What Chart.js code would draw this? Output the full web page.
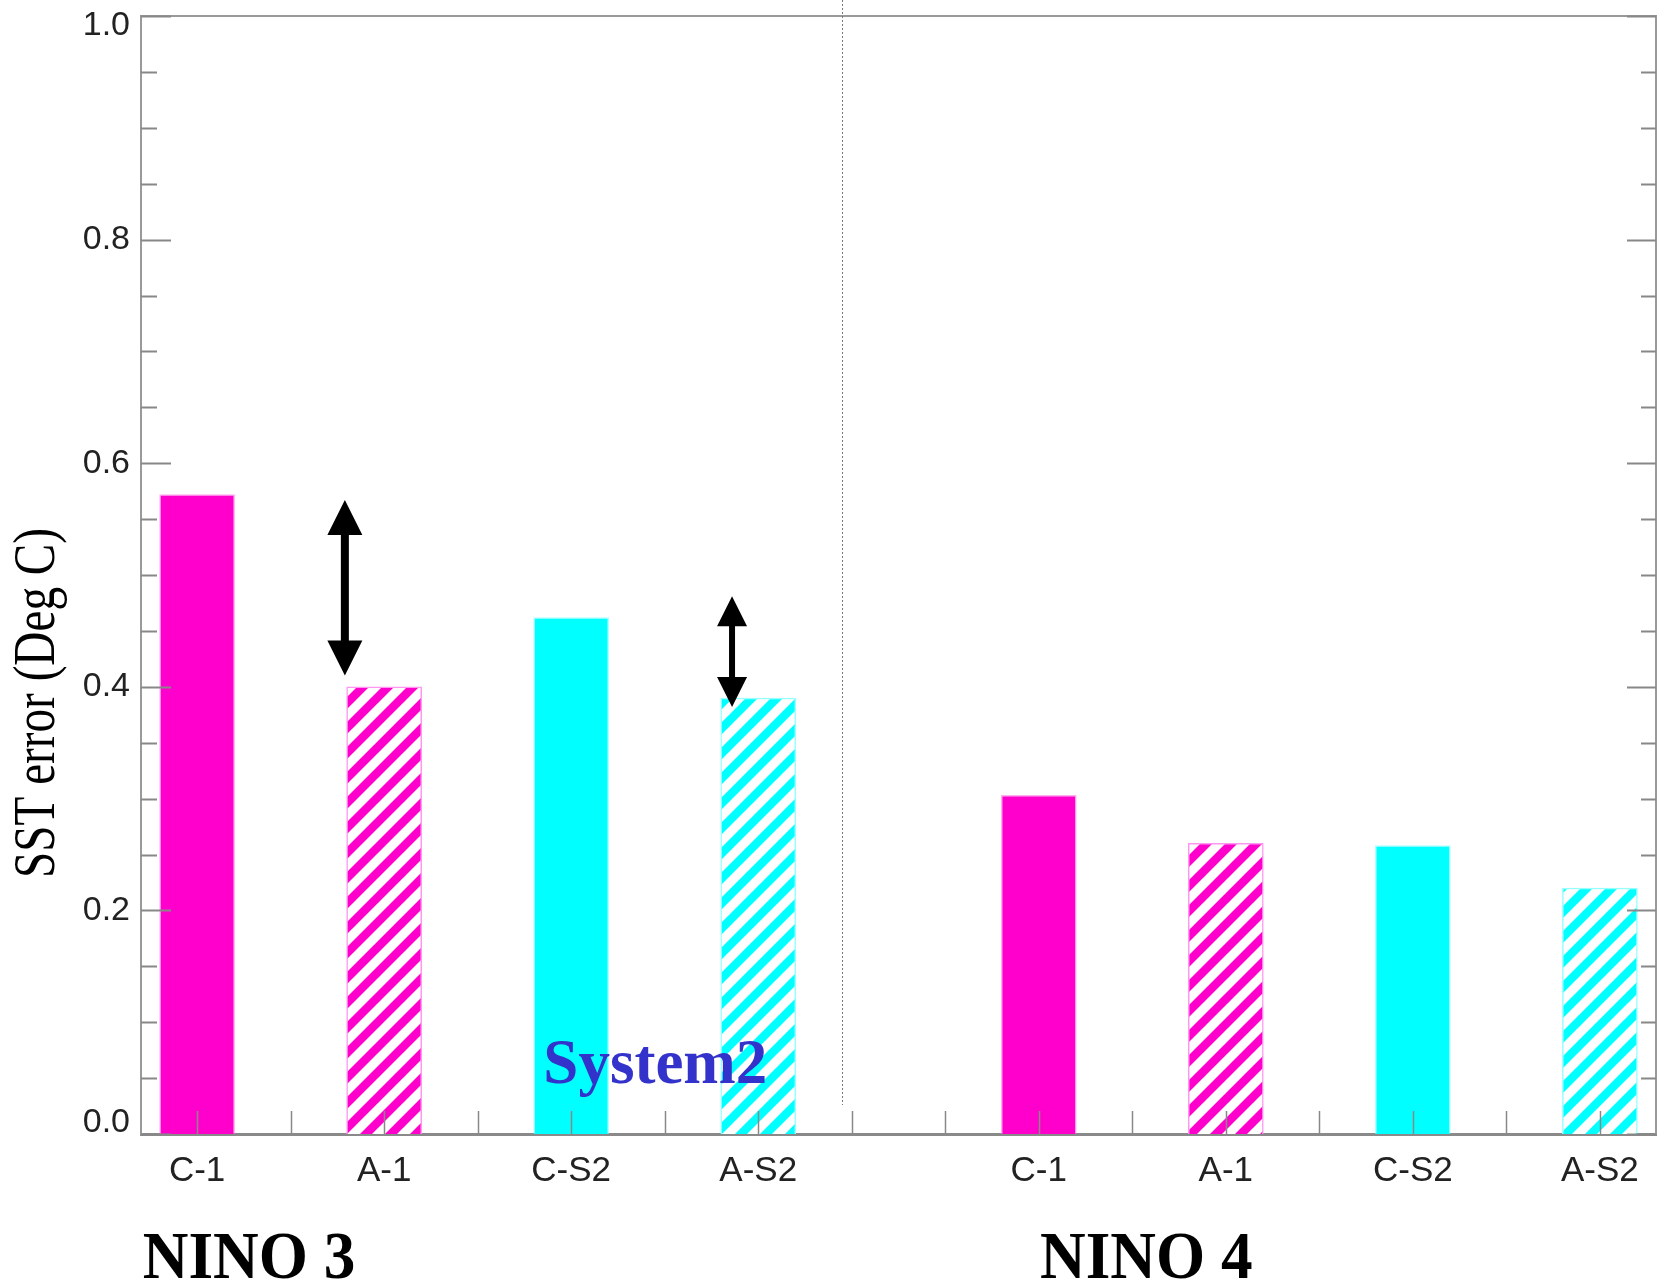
<!DOCTYPE html>
<html lang="en">
<head>
  <meta charset="UTF-8">
  <title>SST error - NINO 3 / NINO 4</title>
  <style>
    html, body {
      margin: 0;
      padding: 0;
      background: #ffffff;
    }

    #wrap {
      width: 1661px;
      height: 1285px;
    }
  </style>
</head>
<body>
  <div id="wrap">
    <canvas id="sstChart" width="1661" height="1285"></canvas>
  </div>

  <script src="https://cdn.jsdelivr.net/npm/chart.js"></script>
  <script>
    // experiments and regions
    const models = ['C-1', 'A-1', 'C-S2', 'A-S2'];
    const regions = ['NINO 3', 'NINO 4'];

    // SST error (deg C) per experiment
    const nino3 = [0.572, 0.40, 0.462, 0.39];
    const nino4 = [0.303, 0.26, 0.258, 0.22];

    const yTicks = [0.0, 0.2, 0.4, 0.6, 0.8, 1.0];

    // improvement arrows (x in bar units, y in deg C)
    const arrows = [
      { x: 0.79, from: 0.41, to: 0.567, head: 35, shaft: 8 },
      { x: 2.86, from: 0.382, to: 0.481, head: 30, shaft: 6 }
    ];

    const MAGENTA = 'rgb(255, 0, 204)';
    const CYAN = 'rgb(0, 255, 255)';

    // bar position: each region is a block of 4 bars, half a slot apart
    const slot = (g, i) => g * (models.length + 0.5) + i;

    function hatch(color) {
      const c = document.createElement('canvas');
      c.width = 25;
      c.height = 25;
      const g = c.getContext('2d');
      g.fillStyle = '#ffffff';
      g.fillRect(0, 0, 25, 25);
      g.strokeStyle = color;
      g.lineWidth = 8.5;
      g.beginPath();
      g.moveTo(-5, 30); g.lineTo(30, -5);
      g.moveTo(-5, 5); g.lineTo(5, -5);
      g.moveTo(20, 30); g.lineTo(30, 20);
      g.stroke();
      return g.createPattern(c, 'repeat');
    }

    const fills = [MAGENTA, hatch(MAGENTA), CYAN, hatch(CYAN)];
    const edges = ['rgba(255, 120, 230, 0.6)', 'rgb(255, 150, 240)',
                   'rgba(120, 255, 255, 0.6)', 'rgb(150, 255, 255)'];

    const datasets = models.map((m, i) => ({
      label: m,
      data: [
        { x: slot(0, i), y: nino3[i] },
        { x: slot(1, i), y: nino4[i] }
      ],
      backgroundColor: fills[i],
      borderColor: edges[i],
      borderWidth: 1.5,
      borderSkipped: 'bottom',
      barThickness: 75,
      grouped: false
    }));

    const labelAt = {};
    regions.forEach((r, g) => models.forEach((m, i) => { labelAt[slot(g, i)] = m; }));

    // frame, inward ticks, labels and annotations
    const decorations = {
      id: 'decorations',
      afterDraw(chart) {
        const { ctx, chartArea: a, scales: { x, y } } = chart;
        ctx.save();

        // top and right frame
        ctx.strokeStyle = '#9a9a9a';
        ctx.lineWidth = 2;
        ctx.beginPath();
        ctx.moveTo(a.left, a.top);
        ctx.lineTo(a.right, a.top);
        ctx.lineTo(a.right, a.bottom);
        ctx.stroke();

        // y ticks on both sides
        ctx.strokeStyle = '#888888';
        ctx.lineWidth = 2;
        for (let k = 0; k <= 20; k++) {
          const v = k * 0.05;
          const py = Math.round(y.getPixelForValue(v)) + 0.5;
          const major = k % 4 === 0;
          ctx.beginPath();
          ctx.moveTo(a.left, py);
          ctx.lineTo(a.left + (major ? 30 : 16), py);
          ctx.moveTo(a.right, py);
          ctx.lineTo(a.right - (major ? 29 : 15), py);
          ctx.stroke();
        }

        // x ticks every half slot
        ctx.lineWidth = 1.5;
        for (let v = 0; v <= slot(1, models.length - 1) + 0.01; v += 0.5) {
          const px = Math.round(x.getPixelForValue(v)) + 0.5;
          ctx.beginPath();
          ctx.moveTo(px, a.bottom);
          ctx.lineTo(px, a.bottom - 23);
          ctx.stroke();
        }

        // y tick labels, end labels kept inside the frame
        ctx.fillStyle = '#222222';
        ctx.font = '34px "Liberation Sans", Arial, sans-serif';
        ctx.textAlign = 'right';
        ctx.textBaseline = 'middle';
        yTicks.forEach(v => {
          let py = y.getPixelForValue(v);
          py = Math.min(Math.max(py, a.top + 10), a.bottom - 11);
          ctx.fillText(v.toFixed(1), a.left - 11, py);
        });

        // y title
        ctx.save();
        ctx.translate(54, 703);
        ctx.rotate(-Math.PI / 2);
        ctx.scale(0.8, 1);
        ctx.font = '59px "Liberation Serif", "Times New Roman", serif';
        ctx.textAlign = 'center';
        ctx.textBaseline = 'alphabetic';
        ctx.fillStyle = '#000000';
        ctx.fillText('SST error (Deg C)', 0, 0);
        ctx.restore();

        // dotted separator between the two regions
        const sx = Math.round(x.getPixelForValue(3.45)) + 0.5;
        ctx.strokeStyle = '#777777';
        ctx.lineWidth = 1;
        ctx.setLineDash([2, 2]);
        ctx.beginPath();
        ctx.moveTo(sx, 0);
        ctx.lineTo(sx, y.getPixelForValue(0.026));
        ctx.stroke();
        ctx.setLineDash([]);

        // double-headed arrows
        ctx.fillStyle = '#000000';
        ctx.strokeStyle = '#000000';
        arrows.forEach(ar => {
          const px = x.getPixelForValue(ar.x);
          const top = y.getPixelForValue(ar.to);
          const bot = y.getPixelForValue(ar.from);
          const h = ar.head;
          ctx.lineWidth = ar.shaft;
          ctx.beginPath();
          ctx.moveTo(px, top + h - 2);
          ctx.lineTo(px, bot - h + 2);
          ctx.stroke();
          ctx.beginPath();
          ctx.moveTo(px, top);
          ctx.lineTo(px - h / 2, top + h);
          ctx.lineTo(px + h / 2, top + h);
          ctx.closePath();
          ctx.moveTo(px, bot);
          ctx.lineTo(px - h / 2, bot - h);
          ctx.lineTo(px + h / 2, bot - h);
          ctx.closePath();
          ctx.fill();
        });

        // System2 note
        ctx.fillStyle = '#3333cc';
        ctx.font = 'bold 63px "Liberation Serif", "Times New Roman", serif';
        ctx.textAlign = 'center';
        ctx.textBaseline = 'alphabetic';
        ctx.fillText('System2', x.getPixelForValue(2.45), y.getPixelForValue(0.046));

        // region names under the axis
        ctx.fillStyle = '#000000';
        ctx.font = 'bold 68px "Liberation Serif", "Times New Roman", serif';
        const regionX = [0.278, 5.075];
        regions.forEach((r, g) => {
          ctx.save();
          ctx.translate(x.getPixelForValue(regionX[g]), a.bottom + 144);
          ctx.scale(0.93, 1);
          ctx.fillText(r, 0, 0);
          ctx.restore();
        });

        ctx.restore();
      }
    };

    const ctx = document.getElementById('sstChart').getContext('2d');
    const sstChart = new Chart(ctx, {
      type: 'bar',
      data: { datasets: datasets },
      options: {
        responsive: false,
        animation: false,
        layout: { padding: { top: 16, right: 5, left: 0, bottom: 0 } },
        plugins: {
          legend: { display: false },
          tooltip: { enabled: false }
        },
        scales: {
          x: {
            type: 'linear',
            min: -0.3,
            max: 7.8,
            offset: false,
            afterBuildTicks: scale => {
              scale.ticks = Object.keys(labelAt).map(v => ({ value: Number(v) }));
            },
            afterFit: scale => { scale.height = 151; },
            ticks: {
              autoSkip: false,
              maxRotation: 0,
              padding: 16,
              color: '#222222',
              font: { family: '"Liberation Sans", Arial, sans-serif', size: 35 },
              callback: v => labelAt[v] || ''
            },
            grid: { display: false, drawTicks: false },
            border: { display: true, color: '#8a8a8a', width: 3 }
          },
          y: {
            min: 0,
            max: 1,
            afterFit: scale => { scale.width = 141; },
            ticks: { display: false },
            grid: { display: false, drawTicks: false },
            border: { display: true, color: '#999999', width: 2 }
          }
        }
      },
      plugins: [decorations]
    });
  </script>
</body>
</html>
